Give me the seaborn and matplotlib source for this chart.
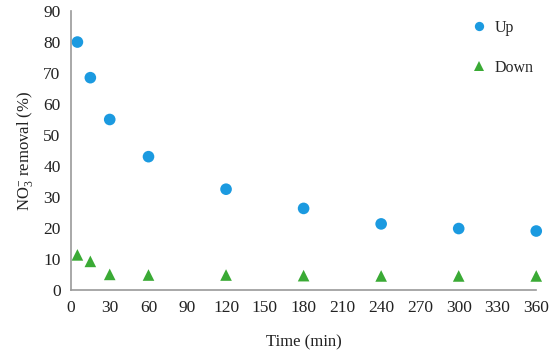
import pandas as pd
import seaborn as sns
import matplotlib.pyplot as plt

# Data
time_min = [5, 15, 30, 60, 120, 180, 240, 300, 360]
up = [80, 68.5, 55, 43, 32.5, 26.3, 21.3, 19.8, 19]
down = [11.3, 9.2, 5, 4.8, 4.8, 4.6, 4.5, 4.5, 4.5]

df = pd.DataFrame({
    'time': time_min * 2,
    'removal': up + down,
    'flow': ['Up'] * len(up) + ['Down'] * len(down),
})

sns.set_style('white')
plt.rcParams['font.family'] = ['Liberation Serif', 'DejaVu Serif']
plt.rcParams['mathtext.fontset'] = 'custom'
plt.rcParams['mathtext.rm'] = 'Liberation Serif'
plt.rcParams['mathtext.it'] = 'Liberation Serif:italic'

fig, ax = plt.subplots(figsize=(5.5, 3.57), dpi=100)
fig.subplots_adjust(left=0.129, right=0.975, bottom=0.188, top=0.969)

sns.scatterplot(data=df, x='time', y='removal', hue='flow', style='flow',
                markers={'Up': 'o', 'Down': '^'},
                palette={'Up': '#1b9ae0', 'Down': '#3aaa35'},
                s=70, linewidth=0, ax=ax, clip_on=False)

ax.set_xlim(0, 360)
ax.set_ylim(0, 90)
ax.set_xticks(range(0, 361, 30))
ax.set_yticks(range(0, 91, 10))
ax.set_xlabel('Time (min)', fontsize=12, color='#222222', labelpad=13)
ax.set_ylabel('NO$_3^{-}$ removal (%)', fontsize=12, color='#222222', labelpad=6)

for side in ['top', 'right']:
    ax.spines[side].set_visible(False)
for side in ['left', 'bottom']:
    ax.spines[side].set_color('#999999')
    ax.spines[side].set_linewidth(1.2)
ax.tick_params(axis='both', direction='out', length=4, width=1, color='#999999',
               labelsize=12.5, labelcolor='#222222')

leg = ax.legend(loc='upper right', bbox_to_anchor=(1.025, 1.02), frameon=False,
                title=None, fontsize=11.5, labelspacing=1.5, handletextpad=0.0,
                markerscale=0.8)

plt.savefig('out.png')
